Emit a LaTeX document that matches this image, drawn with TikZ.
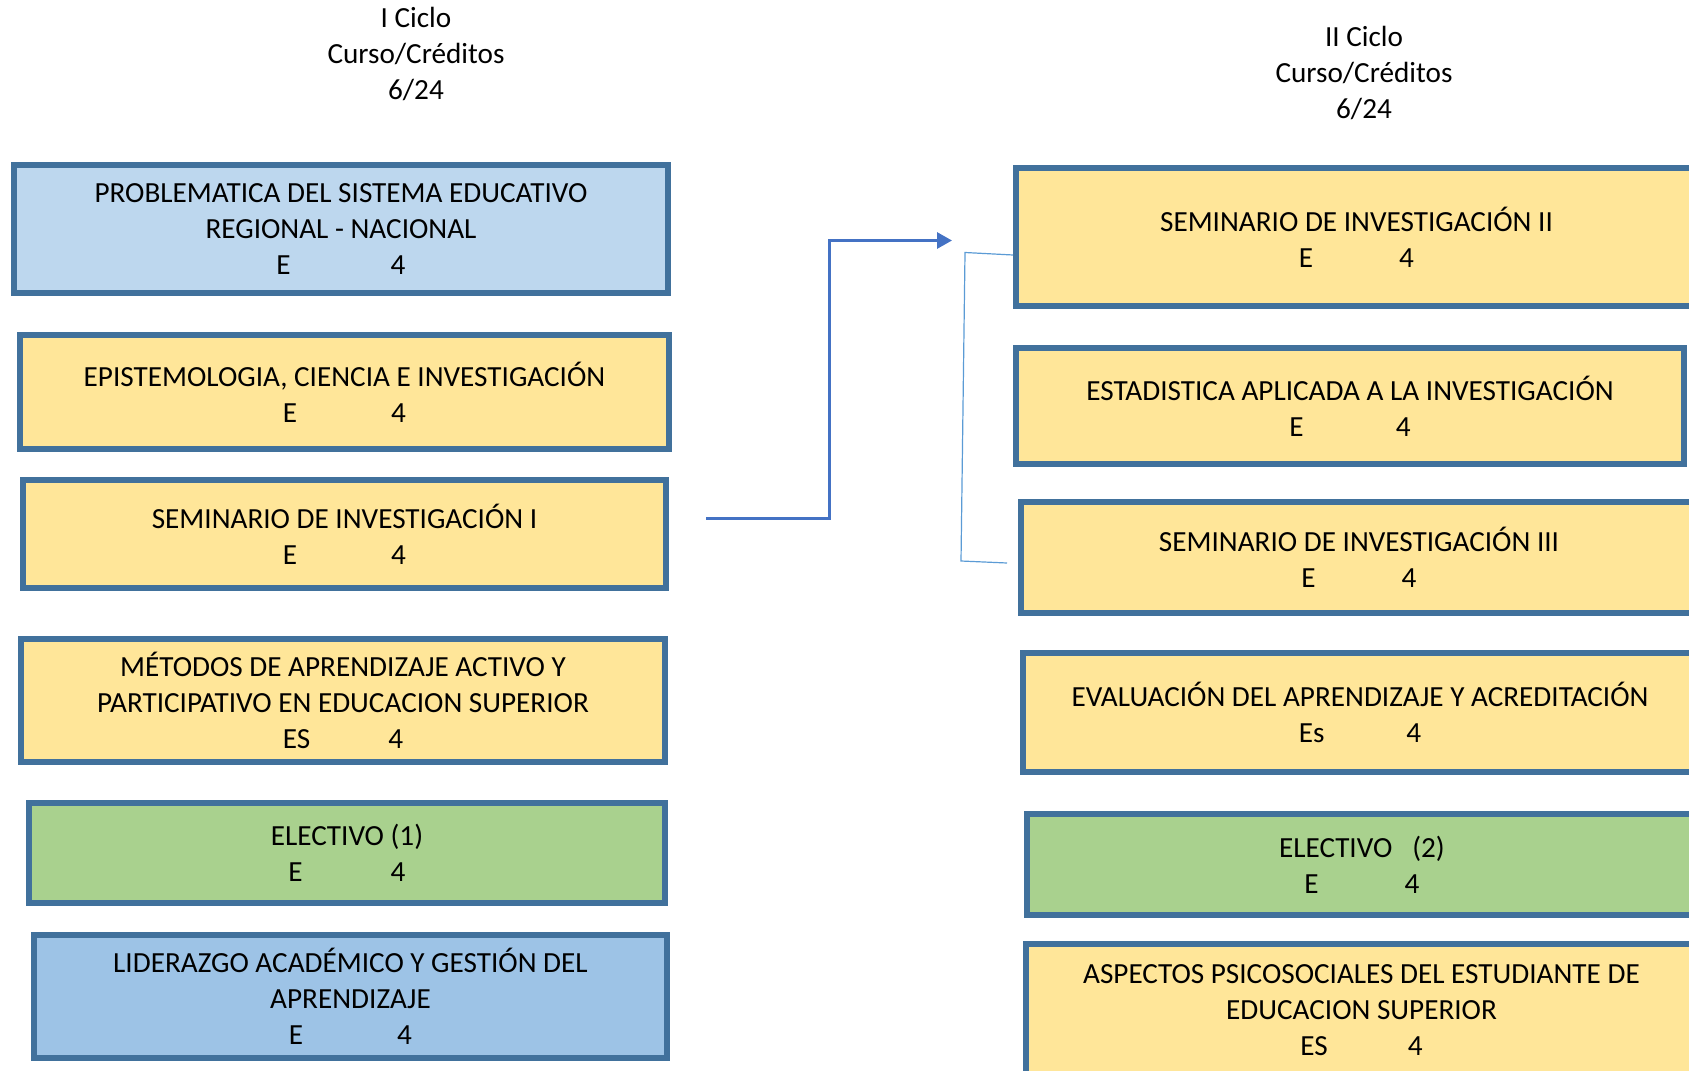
\documentclass[tikz,border=0pt]{standalone}
\usepackage{fontspec}
\setmainfont{Carlito}
\usepackage{tikz}
\usetikzlibrary{arrows.meta}
\usepackage{xcolor}
\definecolor{borde}{HTML}{41719C}
\definecolor{celeste}{HTML}{BDD7EE}
\definecolor{azul}{HTML}{9DC3E6}
\definecolor{amarillo}{HTML}{FFE699}
\definecolor{verde}{HTML}{A9D18E}
\definecolor{flecha}{HTML}{4472C4}
\definecolor{linea}{HTML}{5B9BD5}

\begin{document}
\begin{tikzpicture}[x=0.5pt,y=-0.5pt]
  \tikzstyle{every node}=[align=center,text=black,inner sep=0pt,font=\fontsize{14.6}{18}\selectfont]
  \tikzstyle{curso}=[shape=rectangle,draw=borde,line width=3pt]
  \useasboundingbox (0,0) rectangle (1689,1070);

  % encabezados
  \node (c1) at (416,54)   {I Ciclo\\Curso/Créditos\\6/24};
  \node (c2) at (1364,73)  {II Ciclo\\Curso/Créditos\\6/24};

  % I ciclo
  \node [curso,fill=celeste,minimum width=327pt,minimum height=64pt]  (a1) at (341,229)   {PROBLEMATICA DEL SISTEMA EDUCATIVO\\REGIONAL - NACIONAL\\E\hspace{50pt}4};
  \node [curso,fill=amarillo,minimum width=324.5pt,minimum height=57pt] (a2) at (344.5,392) {EPISTEMOLOGIA, CIENCIA E INVESTIGACIÓN\\E\hspace{47pt}4};
  \node [curso,fill=amarillo,minimum width=321.5pt,minimum height=54pt] (a3) at (344.5,534) {SEMINARIO DE INVESTIGACIÓN I\\E\hspace{47pt}4};
  \node [curso,fill=amarillo,minimum width=322pt,minimum height=61.5pt] (a4) at (343,700.5)  {MÉTODOS DE APRENDIZAJE ACTIVO Y\\PARTICIPATIVO EN EDUCACION SUPERIOR\\ES\hspace{39pt}4};
  \node [curso,fill=verde,minimum width=318pt,minimum height=50pt]      (a5) at (347,853)    {ELECTIVO (1)\\E\hspace{44pt}4};
  \node [curso,fill=azul,minimum width=316.5pt,minimum height=61.5pt]   (a6) at (350.5,996.5) {LIDERAZGO ACADÉMICO Y GESTIÓN DEL\\APRENDIZAJE\\E\hspace{47pt}4};

  % II ciclo
  \node [curso,fill=amarillo,minimum width=340.5pt,minimum height=69pt] (b1) at (1356.5,237) {SEMINARIO DE INVESTIGACIÓN II\\E\hspace{43pt}4};
  \node [curso,fill=amarillo,minimum width=334pt,minimum height=58pt]   (b2) at (1350,406)   {ESTADISTICA APLICADA A LA INVESTIGACIÓN\\E\hspace{46pt}4};
  \node [curso,fill=amarillo,minimum width=338pt,minimum height=55.5pt] (b3) at (1359,557.5) {SEMINARIO DE INVESTIGACIÓN III\\E\hspace{43pt}4};
  \node [curso,fill=amarillo,minimum width=337pt,minimum height=59.5pt] (b4) at (1360,712.5) {EVALUACIÓN DEL APRENDIZAJE Y ACREDITACIÓN\\Es\hspace{41pt}4};
  \node [curso,fill=verde,minimum width=335pt,minimum height=50.5pt]    (b5) at (1362,864.5) {ELECTIVO\hspace{10pt}(2)\\E\hspace{43pt}4};
  \node [curso,fill=amarillo,minimum width=335.5pt,minimum height=66.5pt] (b6) at (1361.5,1010.5) {ASPECTOS PSICOSOCIALES DEL ESTUDIANTE DE\\EDUCACION SUPERIOR\\ES\hspace{40pt}4};

  % conectores
  \coordinate (s) at (706,518);
  \coordinate (t) at (952,240.5);
  \draw [flecha,line width=1.5pt,-{Triangle[length=7.5pt,width=8pt]}] (s) -- ++(123,0) |- (t);
  \coordinate (u) at (1013,255);
  \coordinate (v) at (1007,563);
  \draw [linea,line width=0.6pt] (u) -- (965,252.5) -- (961,561) -- (v);
\end{tikzpicture}
\end{document}
